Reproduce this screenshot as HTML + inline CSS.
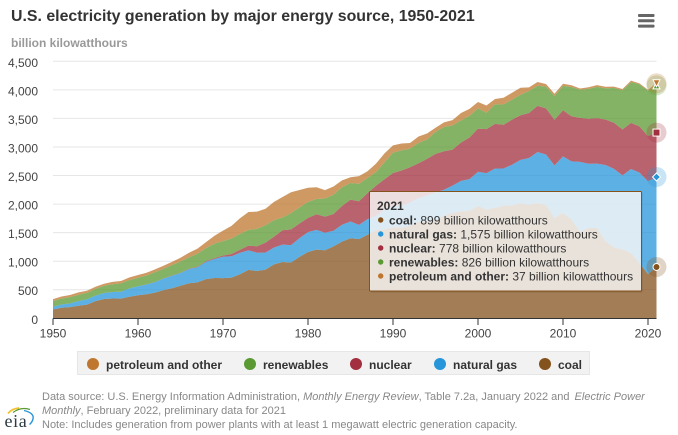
<!DOCTYPE html>
<html lang="en">
<head>
<meta charset="utf-8">
<title>U.S. electricity generation by major energy source, 1950-2021</title>
<style>
html,body{margin:0;padding:0;background:#fff;width:678px;height:435px;overflow:hidden}
svg{display:block;font-family:"Liberation Sans",sans-serif}
</style>
</head>
<body>
<svg id="chart" width="678" height="435" viewBox="0 0 678 435" xmlns="http://www.w3.org/2000/svg">
  <text x="11" y="21" font-size="15.9" font-weight="700" fill="#333">U.S. electricity generation by major energy source, 1950-2021</text>
  <text x="11" y="47" font-size="12" font-weight="700" fill="#999">billion kilowatthours</text>
  <g fill="#666">
    <rect x="638" y="14" width="16.5" height="3" rx="1"/>
    <rect x="638" y="19.3" width="16.5" height="3" rx="1"/>
    <rect x="638" y="24.6" width="16.5" height="3" rx="1"/>
  </g>
  <g id="grid"></g>
  <g id="yLabels"></g>
  <g id="areas"></g>
  <g id="xAxis"></g>
  <g id="markers"></g>
  <g id="tooltip"></g>
  <g>
    <rect x="77.5" y="351.5" width="512" height="23" fill="#f2f2f2" stroke="#e6e6e6"/>
    <g>
      <circle cx="93" cy="364" r="6" fill="#bf7730"/>
      <text x="106" y="369" font-size="12" font-weight="700" fill="#333">petroleum and other</text>
    </g>
    <g>
      <circle cx="250" cy="364" r="6" fill="#5b9a32"/>
      <text x="263" y="369" font-size="12" font-weight="700" fill="#333">renewables</text>
    </g>
    <g>
      <circle cx="356" cy="364" r="6" fill="#a22f3e"/>
      <text x="369" y="369" font-size="12" font-weight="700" fill="#333">nuclear</text>
    </g>
    <g>
      <circle cx="440" cy="364" r="6" fill="#2695d9"/>
      <text x="453" y="369" font-size="12" font-weight="700" fill="#333">natural gas</text>
    </g>
    <g>
      <circle cx="545" cy="364" r="6" fill="#84521c"/>
      <text x="558" y="369" font-size="12" font-weight="700" fill="#333">coal</text>
    </g>
  </g>
  <g font-size="11" fill="#888">
    <text x="42" y="400">Data source: U.S. Energy Information Administration, <tspan font-style="italic">Monthly Energy Review</tspan>, Table 7.2a, January 2022 and <tspan font-style="italic" dx="2">Electric Power</tspan></text>
    <text x="42" y="414"><tspan font-style="italic">Monthly</tspan>, February 2022, preliminary data for 2021</text>
    <text x="42" y="428">Note: Includes generation from power plants with at least 1 megawatt electric generation capacity.</text>
  </g>
  <g>
    <path d="M8 413.5 Q12 408.5 19 408" fill="none" stroke="#f2c230" stroke-width="1.8"/>
    <path d="M13 412.5 Q21 406.5 30 409.5" fill="none" stroke="#5b9a32" stroke-width="1.3"/>
    <path d="M24 410.5 Q34.5 413 33 419 Q32 422.5 29.5 424.5" fill="none" stroke="#2695d9" stroke-width="1.4"/>
    <text x="4.5" y="427" font-family="'Liberation Serif',serif" font-size="18" letter-spacing="0.6" fill="#2b3a42">eia</text>
  </g>
</svg>
<script>
var years = [];
for (var yr = 1950; yr <= 2021; yr++) { years.push(yr); }
var coal = [155,185,195,219,239,301,338,346,344,378,
  403,422,450,494,526,571,613,630,685,706,
  704,713,771,848,828,853,944,985,976,1075,
  1162,1203,1192,1259,1342,1402,1386,1464,1541,1554,
  1594,1592,1621,1690,1691,1709,1796,1845,1874,1881,
  1966,1904,1933,1974,1978,2013,1991,2016,1986,1756,
  1847,1733,1514,1581,1582,1352,1239,1206,1146,965,
  773,899];
var naturalGas = [45,57,66,81,94,95,104,114,120,147,
  158,169,184,202,220,222,251,265,305,333,
  373,374,376,341,320,300,295,306,305,329,
  346,346,305,274,297,292,249,273,253,352,
  373,382,404,415,460,496,455,479,532,556,
  601,639,691,650,711,761,816,897,883,921,
  988,1014,1226,1125,1127,1333,1378,1296,1469,1586,
  1627,1575];
var nuclear = [0,0,0,0,0,0,0,0,0,0,
  1,2,2,3,3,4,6,8,13,14,
  22,38,54,83,114,173,191,251,276,255,
  251,273,283,294,328,384,414,455,527,529,
  577,613,619,610,640,673,675,629,673,728,
  754,769,780,764,789,782,787,806,806,799,
  807,790,769,789,797,797,806,805,807,809,
  790,778];
var renewables = [101,104,110,111,112,120,127,137,148,144,
  149,156,171,169,182,198,199,227,226,255,
  253,273,277,276,305,304,288,224,284,284,
  280,267,317,337,328,292,304,265,238,295,
  357,354,326,355,340,385,423,423,386,379,
  356,288,343,355,351,358,385,352,381,417,
  427,513,492,523,546,545,610,687,714,736,
  792,826];
var petroleum = [34,36,38,42,38,37,37,40,40,47,
  48,49,49,52,57,65,79,89,104,138,
  184,220,274,314,300,289,320,358,365,304,
  246,206,147,144,120,100,137,118,149,158,
  126,120,100,113,105,74,81,93,129,124,
  111,125,94,119,121,122,64,66,46,39,
  37,30,23,27,30,28,24,21,25,18,
  17,37];
var xTicks = [1950,1960,1970,1980,1990,2000,2010,2020];
var yTicks = [0,500,1000,1500,2000,2500,3000,3500,4000,4500];
var seriesNames = ['coal','natural gas','nuclear','renewables','petroleum and other'];
var seriesColors = ['#84521c','#2695d9','#a22f3e','#5b9a32','#bf7730'];
var seriesData = [coal, naturalGas, nuclear, renewables, petroleum];

var NS = 'http://www.w3.org/2000/svg';
function xScale(y) { return 53 + (y - 1950) * 8.5; }
function yScale(v) { return 318.3 - v * 257 / 4500; }
function make(tag, parent) {
  var el = document.createElementNS(NS, tag);
  parent.appendChild(el);
  return el;
}
function fmt(n) { return String(n).replace(/\B(?=(\d{3})+$)/g, ','); }

var grid = document.getElementById('grid');
var yLabels = document.getElementById('yLabels');
yTicks.forEach(function (t) {
  if (t > 0) {
    var line = make('line', grid);
    
    
    line.setAttribute('x1', 53);
    line.setAttribute('x2', 656.5);
    line.setAttribute('y1', yScale(t));
    line.setAttribute('y2', yScale(t));
    line.setAttribute('stroke', '#e6e6e6');
    line.setAttribute('stroke-width', 1);
  }
  var lab = make('text', yLabels);
  
  
  lab.setAttribute('x', 38);
  lab.setAttribute('y', yScale(t) + 5.5);
  lab.setAttribute('text-anchor', 'end');
  lab.setAttribute('font-size', 12);
  lab.setAttribute('fill', '#444');
  lab.textContent = fmt(t);
});

var areas = document.getElementById('areas');
var base = years.map(function () { return 0; });
var tops = [];
seriesData.forEach(function (vals, s) {
  var top = vals.map(function (v, i) { return base[i] + v; });
  var d = '';
  years.forEach(function (y, i) {
    d += (i ? 'L' : 'M') + xScale(y).toFixed(2) + ' ' + yScale(top[i]).toFixed(2);
  });
  for (var i = years.length - 1; i >= 0; i--) {
    d += 'L' + xScale(years[i]).toFixed(2) + ' ' + yScale(base[i]).toFixed(2);
  }
  d += 'Z';
  var p = make('path', areas);
  
  
  p.setAttribute('d', d);
  p.setAttribute('fill', seriesColors[s]);
  p.setAttribute('fill-opacity', 0.75);
  tops.push(top);
  base = top;
});

var xAxis = document.getElementById('xAxis');
var axisLine = make('line', xAxis);


axisLine.setAttribute('x1', 53);
axisLine.setAttribute('x2', 656.5);
axisLine.setAttribute('y1', 318.5);
axisLine.setAttribute('y2', 318.5);
axisLine.setAttribute('stroke', '#333');
xTicks.forEach(function (t) {
  var tick = make('line', xAxis);
  
  
  tick.setAttribute('x1', xScale(t));
  tick.setAttribute('x2', xScale(t));
  tick.setAttribute('y1', 318.5);
  tick.setAttribute('y2', 325);
  tick.setAttribute('stroke', '#333');
  var lab = make('text', xAxis);
  
  
  lab.setAttribute('x', xScale(t));
  lab.setAttribute('y', 337.5);
  lab.setAttribute('text-anchor', 'middle');
  lab.setAttribute('font-size', 12);
  lab.setAttribute('fill', '#444');
  lab.textContent = String(t);
});

var markers = document.getElementById('markers');
var lastIdx = years.length - 1;
var mx = xScale(years[lastIdx]);
seriesData.forEach(function (vals, s) {
  var my = yScale(tops[s][lastIdx]);
  var halo = make('circle', markers);
  
  
  halo.setAttribute('cx', mx);
  halo.setAttribute('cy', my);
  halo.setAttribute('r', 10);
  halo.setAttribute('fill', seriesColors[s]);
  halo.setAttribute('fill-opacity', 0.25);
});
seriesData.forEach(function (vals, s) {
  var my = yScale(tops[s][lastIdx]);
  var m;
  if (s === 0) {
    m = make('circle', markers);
    m.setAttribute('cx', mx);
    m.setAttribute('cy', my);
    m.setAttribute('r', 3.5);
  } else if (s === 1) {
    m = make('path', markers);
    m.setAttribute('d', 'M' + mx + ' ' + (my - 4) + 'L' + (mx + 4) + ' ' + my + 'L' + mx + ' ' + (my + 4) + 'L' + (mx - 4) + ' ' + my + 'Z');
  } else if (s === 2) {
    m = make('rect', markers);
    m.setAttribute('x', mx - 3.5);
    m.setAttribute('y', my - 3.5);
    m.setAttribute('width', 7);
    m.setAttribute('height', 7);
  } else if (s === 3) {
    m = make('path', markers);
    m.setAttribute('d', 'M' + mx + ' ' + (my - 3.5) + 'L' + (mx + 3.5) + ' ' + (my + 3.5) + 'L' + (mx - 3.5) + ' ' + (my + 3.5) + 'Z');
  } else {
    m = make('path', markers);
    m.setAttribute('d', 'M' + (mx - 3.5) + ' ' + (my - 3.5) + 'L' + (mx + 3.5) + ' ' + (my - 3.5) + 'L' + mx + ' ' + (my + 3.5) + 'Z');
  }
  
  
  m.setAttribute('fill', seriesColors[s]);
  m.setAttribute('stroke', '#fff');
  m.setAttribute('stroke-width', 1);
});

var tip = document.getElementById('tooltip');
var shadow = make('rect', tip);


shadow.setAttribute('x', 370.5);
shadow.setAttribute('y', 192.5);
shadow.setAttribute('width', 272);
shadow.setAttribute('height', 100);
shadow.setAttribute('rx', 1);
shadow.setAttribute('fill', '#000');
shadow.setAttribute('fill-opacity', 0.12);
var box = make('rect', tip);


box.setAttribute('x', 369.5);
box.setAttribute('y', 191.5);
box.setAttribute('width', 272);
box.setAttribute('height', 99.5);
box.setAttribute('rx', 1);
box.setAttribute('fill', '#fff');
box.setAttribute('fill-opacity', 0.8);
box.setAttribute('stroke', '#84521c');
box.setAttribute('stroke-width', 1);
var tipYear = make('text', tip);


tipYear.setAttribute('x', 377);
tipYear.setAttribute('y', 210);
tipYear.setAttribute('font-size', 12);
tipYear.setAttribute('font-weight', 700);
tipYear.setAttribute('fill', '#333');
tipYear.textContent = String(years[lastIdx]);
seriesData.forEach(function (vals, s) {
  var rowY = 224.5 + s * 14;
  var dot = make('circle', tip);
  
  
  dot.setAttribute('cx', 380.7);
  dot.setAttribute('cy', rowY - 4.5);
  dot.setAttribute('r', 2.7);
  dot.setAttribute('fill', seriesColors[s]);
  var row = make('text', tip);
  
  
  row.setAttribute('x', 389);
  row.setAttribute('y', rowY);
  row.setAttribute('font-size', 12);
  row.setAttribute('fill', '#333');
  var b = make('tspan', row);
  b.setAttribute('font-weight', 700);
  b.textContent = seriesNames[s] + ':';
  var v = make('tspan', row);
  v.textContent = ' ' + fmt(vals[lastIdx]) + ' billion kilowatthours';
});
</script>
</body>
</html>
